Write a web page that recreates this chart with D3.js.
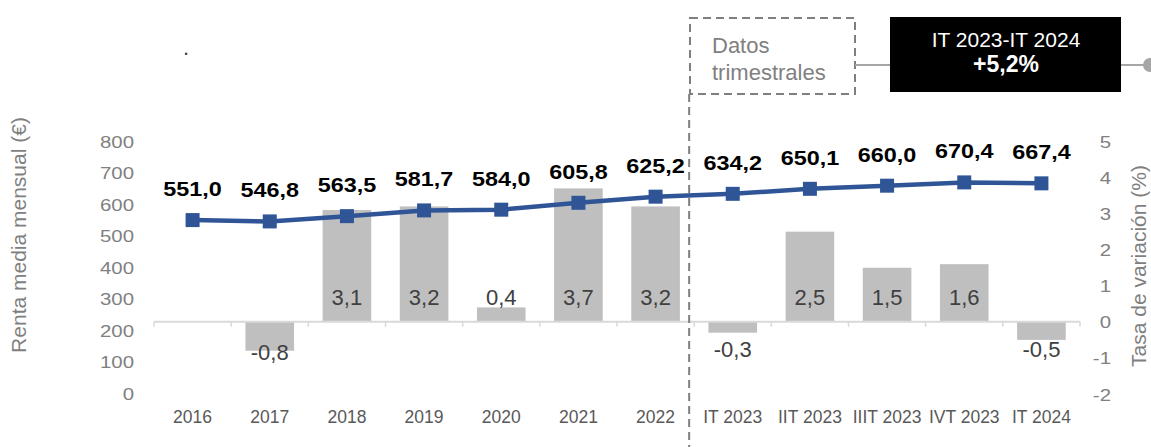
<!DOCTYPE html>
<html><head><meta charset="utf-8">
<script src="https://cdn.jsdelivr.net/npm/d3@7"></script>
<style>body{margin:0;background:#fff;font-family:"Liberation Sans",Arial,sans-serif;}</style>
</head><body><svg id="c" width="1151" height="447"></svg>
<script>
const categories = ["2016","2017","2018","2019","2020","2021","2022","IT 2023","IIT 2023","IIIT 2023","IVT 2023","IT 2024"];
const renta = [551.0,546.8,563.5,581.7,584.0,605.8,625.2,634.2,650.1,660.0,670.4,667.4];
const tasa = [null,-0.8,3.1,3.2,0.4,3.7,3.2,-0.3,2.5,1.5,1.6,-0.5];
const leftTicks = [0,100,200,300,400,500,600,700,800];
const rightTicks = [-2,-1,0,1,2,3,4,5];
const fmt = v => v.toFixed(1).replace(".", ",");

const svg = d3.select("#c");
const font = '"Liberation Sans",Arial,sans-serif';
const x = d3.scaleBand().domain(categories).range([154,1080]).padding(0);
const yL = d3.scaleLinear().domain([0,800]).range([394,141.5]);
const yR = d3.scaleLinear().domain([-2,5]).range([394,141.5]);
const cx = c => x(c) + x.bandwidth()/2;
const bw = x.bandwidth()*0.63;

// text helper: position + optional horizontal stretch
function txt(sel, size, k, anchor, fill, weight){
  return sel.attr("font-family",font).attr("font-size",size).attr("text-anchor",anchor)
    .attr("fill",fill).attr("font-weight",weight||"normal");
}

// bars
const barData = categories.map((c,i)=>({c,v:tasa[i]})).filter(d=>d.v!==null);
svg.append("g").selectAll("rect").data(barData).join("rect")
  .attr("x",d=>x(d.c)+(x.bandwidth()-bw)/2)
  .attr("width",bw)
  .attr("y",d=>yR(Math.max(0,d.v)))
  .attr("height",d=>Math.abs(yR(d.v)-yR(0)))
  .attr("fill","#bfbfbf");

// x axis line + ticks
const y0 = yR(0);
svg.append("line").attr("x1",154).attr("x2",1080).attr("y1",y0).attr("y2",y0).attr("stroke","#d9d9d9").attr("stroke-width",2);
const bounds = categories.map(c=>x(c)).concat([x.range()[1]]);
svg.append("g").selectAll("line").data(bounds).join("line")
  .attr("x1",d=>d).attr("x2",d=>d).attr("y1",y0).attr("y2",y0+5).attr("stroke","#d9d9d9").attr("stroke-width",1.5);
txt(svg.append("g").selectAll("text").data(categories).join("text")
  .attr("x",d=>cx(d)).attr("y",422.5), 17.5, 1, "middle", "#595959").text(d=>d);

// bar labels
txt(svg.append("g").selectAll("text").data(barData).join("text")
  .attr("x",d=>cx(d.c))
  .attr("y",d=>d.v>=0 ? y0-17 : Math.max(yR(d.v)+9, y0+35)), 22, 1, "middle", "#404040").text(d=>fmt(d.v));

// left axis ticks
txt(svg.append("g").selectAll("text").data(leftTicks).join("text")
  .attr("transform",d=>`translate(134,${yL(d)+6}) scale(1.2,1)`), 17, 1, "end", "#808080").text(d=>d);
// right axis ticks
txt(svg.append("g").selectAll("text").data(rightTicks).join("text")
  .attr("transform",d=>`translate(1111,${yR(d)+6.5}) scale(1.2,1)`), 17, 1, "end", "#808080").text(d=>d<0?"-"+Math.abs(d):d);

// axis titles
txt(svg.append("text").attr("transform","translate(26,235) rotate(-90)"), 21, 1, "middle", "#7f7f7f")
  .text("Renta media mensual (€)");
txt(svg.append("text").attr("transform","translate(1146,266) rotate(-90)"), 21, 1, "middle", "#7f7f7f")
  .text("Tasa de variación (%)");

// line
const line = d3.line().x((d,i)=>cx(categories[i])).y(d=>yL(d));
svg.append("path").datum(renta).attr("d",line).attr("fill","none").attr("stroke","#2f5597").attr("stroke-width",4.5);
svg.append("g").selectAll("rect").data(renta).join("rect")
  .attr("x",(d,i)=>cx(categories[i])-7).attr("y",d=>yL(d)-7)
  .attr("width",14).attr("height",14).attr("fill","#2f5597");
txt(svg.append("g").selectAll("text").data(renta).join("text")
  .attr("transform",(d,i)=>`translate(${cx(categories[i])},${yL(d)-24}) scale(1.2,1)`), 19.5, 1, "middle", "#000", "bold").text(d=>fmt(d));

// annotations
const sepX = x(categories[7]) - 5;
svg.append("line").attr("x1",sepX).attr("x2",sepX).attr("y1",94).attr("y2",447)
  .attr("stroke","#7f7f7f").attr("stroke-width",2).attr("stroke-dasharray","8,5");
svg.append("rect").attr("x",690).attr("y",18).attr("width",165).attr("height",76)
  .attr("fill","none").attr("stroke","#7f7f7f").attr("stroke-width",2).attr("stroke-dasharray","8,5");
txt(svg.append("text").attr("x",712).attr("y",53), 22, 1, "start", "#808080").text("Datos");
txt(svg.append("text").attr("x",712).attr("y",80), 22, 1, "start", "#808080").text("trimestrales");
svg.append("line").attr("x1",855).attr("x2",890).attr("y1",65).attr("y2",65).attr("stroke","#a6a6a6").attr("stroke-width",2);
svg.append("rect").attr("x",890).attr("y",17).attr("width",231).attr("height",75).attr("fill","#000");
txt(svg.append("text").attr("x",1006).attr("y",47), 21, 1, "middle", "#fff").text("IT 2023-IT 2024");
txt(svg.append("text").attr("x",1006).attr("y",72), 23, 1, "middle", "#fff", "bold").text("+5,2%");
svg.append("line").attr("x1",1121).attr("x2",1150).attr("y1",65).attr("y2",65).attr("stroke","#a6a6a6").attr("stroke-width",2);
svg.append("circle").attr("cx",1150).attr("cy",65).attr("r",7).attr("fill","#a6a6a6");
txt(svg.append("text").attr("x",186).attr("y",55), 22, 1, "middle", "#404040").text(".");
</script></body></html>
